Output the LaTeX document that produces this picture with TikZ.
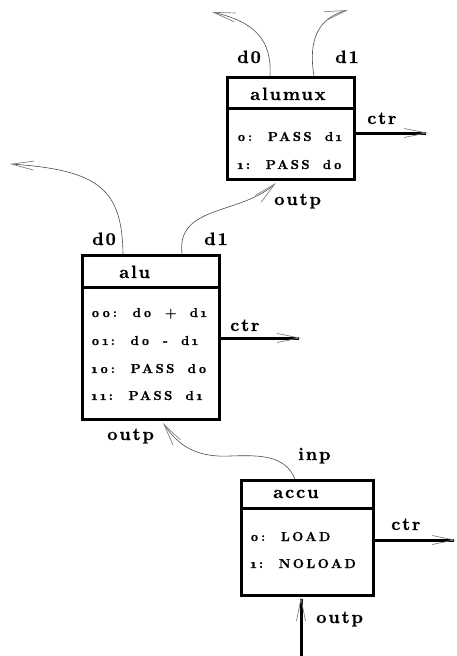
\documentclass[tikz,border=0pt]{standalone}
\usepackage{fontspec}
\usetikzlibrary{arrows.meta,calc}
\newfontfamily\lblfont{lmroman10-bold.otf}[LetterSpace=10,FakeBold=0.6]
\newfontfamily\rowfont{lmroman10-bold.otf}[LetterSpace=18,WordSpace=1.8,Numbers=OldStyle,FakeBold=0.6]
\tikzset{
  box/.style={draw, line width=3pt, anchor=north west, inner sep=0pt},
  divider/.style={line width=3pt},
  lbl/.style={font=\lblfont\fontsize{18}{21}\selectfont, inner sep=0pt, anchor=base west},
  row/.style={font=\rowfont\fontsize{13}{15}\selectfont, inner sep=0pt, anchor=base west},
  barb/.style={-{Straight Barb[length=22pt,width=9pt,line width=0.7pt,color=gray]}},
  ctrline/.style={line width=3pt, barb},
  wire/.style={black!70, line width=0.6pt, barb},
}
\begin{document}
\begin{tikzpicture}[x=1pt,y=-1pt]
\useasboundingbox (0,0) rectangle (457,656);

% boxes
\node[box, minimum width=127pt, minimum height=102pt] (alumux) at (226,76) {};
\node[box, minimum width=137pt, minimum height=164pt] (alu) at (81,254) {};
\node[box, minimum width=132pt, minimum height=115pt] (accu) at (240,479) {};
\draw[divider] ($(alumux.north west)+(0,32)$) -- ($(alumux.north east)+(0,32)$);
\draw[divider] ($(alu.north west)+(0,33)$) -- ($(alu.north east)+(0,33)$);
\draw[divider] ($(accu.north west)+(0,29)$) -- ($(accu.north east)+(0,29)$);

% headers
\node[lbl] (hmux) at (250,100) {alumux};
\node[lbl] (halu) at (119,278) {alu};
\node[lbl] (haccu) at (273,498) {accu};

% rows
\node[row] (m0) at (237,141) {0: PASS d1};
\node[row] (m1) at (237,169) {1: PASS d0};
\node[row] (a0) at (91,317) {00: d0 + d1};
\node[row] (a1) at (91,345) {01: d0 - d1};
\node[row] (a2) at (91,373) {10: PASS d0};
\node[row] (a3) at (91,400) {11: PASS d1};
\node[row] (c0) at (250,541) {0: LOAD};
\node[row] (c1) at (250,568) {1: NOLOAD};

% port labels
\node[lbl] (lmd0) at (237,63) {d0};
\node[lbl] (lmd1) at (335,63) {d1};
\node[lbl] (lmctr) at (367,124) {ctr};
\node[lbl] (lmout) at (274,205) {outp};
\node[lbl] (lad0) at (92,245) {d0};
\node[lbl] (lad1) at (204,245) {d1};
\node[lbl] (lactr) at (230,331) {ctr};
\node[lbl] (laout) at (107,440) {outp};
\node[lbl] (lcinp) at (298,460) {inp};
\node[lbl] (lcctr) at (391,530) {ctr};
\node[lbl] (lcout) at (316,623) {outp};

% free ends
\coordinate (emd0) at (212,12);
\coordinate (emd1) at (348,10);
\coordinate (emctr) at (428,133);
\coordinate (ead0) at (10,164);
\coordinate (eactr) at (301,338);
\coordinate (ecctr) at (456,540);
\coordinate (ecout) at (301,656);

% ctr outputs
\draw[ctrline] (alumux.east |- emctr) -- (emctr);
\draw[ctrline] (alu.east |- eactr) -- (eactr);
\draw[ctrline] (accu.east |- ecctr) -- (ecctr);

% wires
\draw[wire] ($(alumux.north west)+(44,0)$) .. controls (272,40) and (255,22) .. (emd0);
\draw[wire] ($(alumux.north west)+(88,0)$) .. controls (308,40) and (318,18) .. (emd1);
\draw[wire] ($(alu.north west)+(42,0)$) .. controls (122,190) and (100,170) .. (ead0);
\draw[wire] ($(alu.north west)+(101,0)$) .. controls (176,205) and (240,215) .. ($(alumux.south west)+(50,2)$);
\draw[wire] ($(accu.north west)+(55,0)$) .. controls (285,455) and (260,455) .. (230,456)
            .. controls (190,458) and (175,440) .. ($(alu.south west)+(82,2)$);
\draw[line width=3pt, barb] (ecout) -- (accu.south -| ecout);
\end{tikzpicture}
\end{document}
